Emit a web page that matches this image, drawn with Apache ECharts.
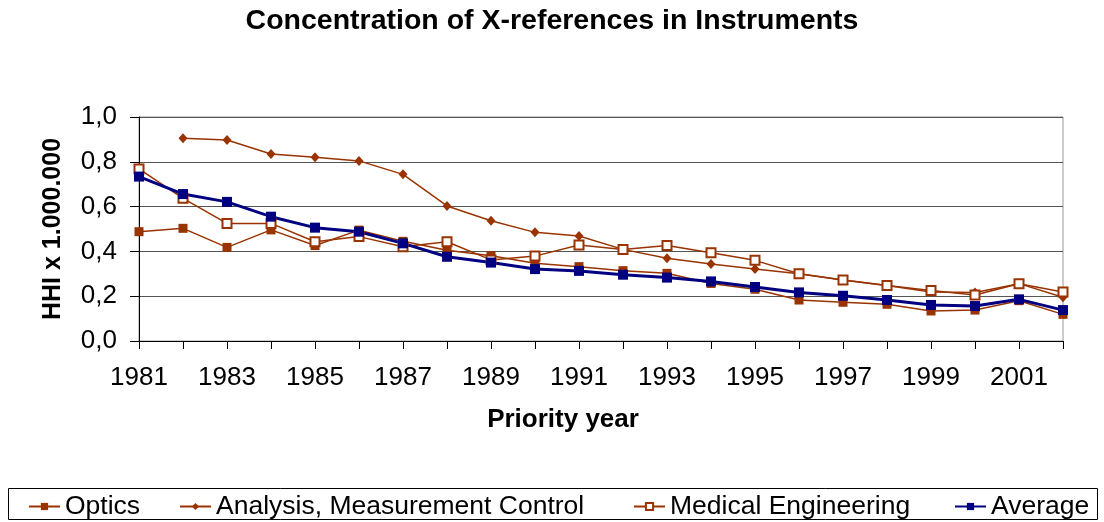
<!DOCTYPE html>
<html>
<head>
<meta charset="utf-8">
<script src="https://cdn.jsdelivr.net/npm/echarts@6/dist/echarts.min.js"></script>
<style>
  html, body { margin: 0; padding: 0; background: #fff; }
  #chart { width: 1104px; height: 522px; }
</style>
</head>
<body>
<div id="chart"></div>
<script>
// Priority years on the category axis
const years = ['1981','1982','1983','1984','1985','1986','1987','1988','1989','1990','1991',
               '1992','1993','1994','1995','1996','1997','1998','1999','2000','2001','2002'];

// HHI (x 1.000.000) per technology field
const optics = [0.488, 0.503, 0.418, 0.496, 0.426, 0.495, 0.445, 0.405, 0.381, 0.347, 0.332,
                0.314, 0.302, 0.257, 0.231, 0.183, 0.173, 0.164, 0.134, 0.138, 0.180, 0.119];
const analysis = [null, 0.905, 0.897, 0.835, 0.820, 0.804, 0.744, 0.603, 0.537, 0.485, 0.469,
                  0.409, 0.369, 0.344, 0.321, 0.300, 0.272, 0.248, 0.219, 0.217, 0.256, 0.195];
const medical = [0.768, 0.637, 0.525, 0.525, 0.443, 0.466, 0.421, 0.443, 0.362, 0.379, 0.429,
                 0.409, 0.426, 0.394, 0.360, 0.300, 0.272, 0.248, 0.225, 0.205, 0.256, 0.219];
const average = [0.734, 0.656, 0.621, 0.555, 0.506, 0.488, 0.436, 0.376, 0.350, 0.321, 0.313,
                 0.296, 0.283, 0.266, 0.241, 0.217, 0.202, 0.183, 0.161, 0.156, 0.186, 0.138];

const seriesNames = ['Optics', 'Analysis, Measurement Control', 'Medical Engineering', 'Average'];

const FONT = "'Liberation Sans', Arial, sans-serif";
const BROWN = '#993300';
const NAVY = '#000080';

const chart = echarts.init(document.getElementById('chart'), null, { renderer: 'canvas' });

const legendTextStyle = { fontFamily: FONT, fontSize: 26.5, color: '#000' };
const legendLefts = [28, 179, 633, 954];
const legends = seriesNames.map((name, i) => ({
  data: [name],
  left: legendLefts[i],
  top: 493,
  orient: 'horizontal',
  itemWidth: 31,
  itemHeight: 9,
  itemGap: 5,
  padding: 0,
  selectedMode: false,
  textStyle: legendTextStyle
}));

chart.setOption({
  animation: false,
  backgroundColor: '#fff',
  title: {
    text: 'Concentration of X-references in Instruments',
    left: 'center',
    top: 7,
    padding: 0,
    textStyle: { fontFamily: FONT, fontSize: 28.5, fontWeight: 'bold', color: '#000' }
  },
  legend: legends,
  graphic: [{
    type: 'rect',
    shape: { x: 8.5, y: 488.5, width: 1089, height: 31 },
    style: { fill: 'none', stroke: '#000', lineWidth: 1 },
    silent: true,
    z: -1
  }],
  grid: {
    left: 139, right: 41, top: 117, bottom: 181,
    show: true, borderColor: '#999', borderWidth: 1, backgroundColor: 'transparent'
  },
  xAxis: {
    type: 'category',
    data: years,
    boundaryGap: false,
    name: 'Priority year',
    nameLocation: 'middle',
    nameGap: 66,
    nameTextStyle: { fontFamily: FONT, fontSize: 26, fontWeight: 'bold', color: '#000', padding: [0, 76, 0, 0] },
    axisLine: { lineStyle: { color: '#000', width: 1 } },
    axisTick: { show: true, interval: 0, length: 8, inside: false, lineStyle: { color: '#000' } },
    axisLabel: { interval: 1, margin: 24, fontFamily: FONT, fontSize: 26, color: '#000' },
    splitLine: { show: false }
  },
  yAxis: {
    type: 'value',
    min: 0, max: 1, interval: 0.2,
    name: 'HHI x 1.000.000',
    nameLocation: 'middle',
    nameGap: 73,
    nameTextStyle: { fontFamily: FONT, fontSize: 25, fontWeight: 'bold', color: '#000' },
    axisLine: { show: true, lineStyle: { color: '#000', width: 1 } },
    axisTick: { show: true, length: 9, inside: false, lineStyle: { color: '#000' } },
    axisLabel: {
      margin: 22, fontFamily: FONT, fontSize: 26, color: '#000',
      formatter: v => v.toFixed(1).replace('.', ',')
    },
    splitLine: { show: true, lineStyle: { color: '#555', width: 1 } }
  },
  series: [
    {
      name: seriesNames[0], type: 'line', data: optics,
      symbol: 'rect', symbolSize: 9,
      itemStyle: { color: BROWN },
      lineStyle: { color: BROWN, width: 1.5 }
    },
    {
      name: seriesNames[1], type: 'line', data: analysis,
      symbol: 'diamond', symbolSize: [9, 10],
      itemStyle: { color: BROWN },
      lineStyle: { color: BROWN, width: 1.5 }
    },
    {
      name: seriesNames[2], type: 'line', data: medical,
      symbol: 'emptyRect', symbolSize: 9,
      itemStyle: { color: BROWN, borderColor: BROWN, borderWidth: 1.5 },
      lineStyle: { color: BROWN, width: 1.5 }
    },
    {
      name: seriesNames[3], type: 'line', data: average,
      symbol: 'rect', symbolSize: 10,
      itemStyle: { color: NAVY },
      lineStyle: { color: NAVY, width: 3 }
    }
  ]
});
</script>
</body>
</html>
